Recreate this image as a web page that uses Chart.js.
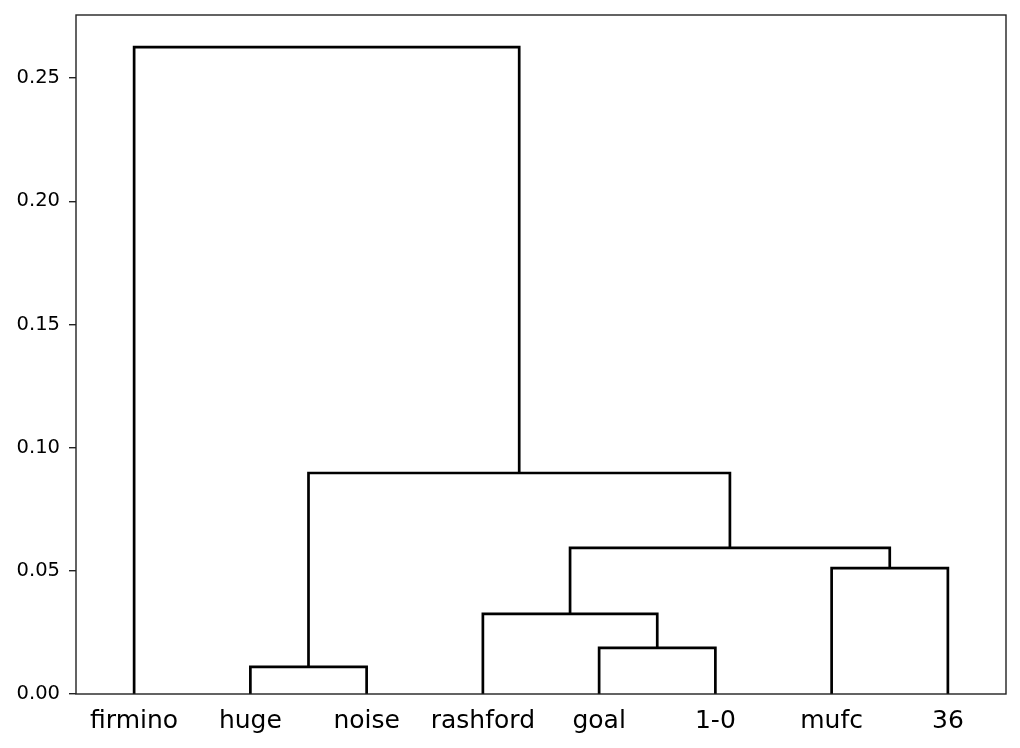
<!DOCTYPE html>
<html>
<head>
<meta charset="utf-8">
<script src="https://cdn.jsdelivr.net/npm/chart.js@4"></script>
<style>
  html, body { margin: 0; padding: 0; background: #fff; }
  #wrap { width: 1020px; height: 748px; }
</style>
</head>
<body>
<div id="wrap"><canvas id="myChart" width="1020" height="748"></canvas></div>
<script>
// leaves in dendrogram order
var leafLabels = ['firmino', 'huge', 'noise', 'rashford', 'goal', '1-0', 'mufc', '36'];
// linkage: [left node, right node, height]; nodes >= 8 are earlier merges
var mergeLeft = [1, 4, 3, 6, 10, 8, 0];
var mergeRight = [2, 5, 9, 7, 11, 12, 13];
var mergeHeight = [0.0110, 0.0187, 0.0325, 0.0511, 0.0593, 0.0897, 0.2626];
var yTicks = [0, 0.05, 0.10, 0.15, 0.20, 0.25];

(function() {
  var n = leafLabels.length;
  var nodeX = [], nodeH = [];
  for (var i = 0; i < n; i++) { nodeX.push(5 + 10 * i); nodeH.push(0); }

  var datasets = [];
  for (var k = 0; k < mergeHeight.length; k++) {
    var a = mergeLeft[k], b = mergeRight[k], h = mergeHeight[k];
    datasets.push({
      data: [
        { x: nodeX[a], y: nodeH[a] },
        { x: nodeX[a], y: h },
        { x: nodeX[b], y: h },
        { x: nodeX[b], y: nodeH[b] }
      ],
      showLine: true,
      borderColor: '#000',
      borderWidth: 2.7,
      pointRadius: 0,
      tension: 0
    });
    nodeX.push((nodeX[a] + nodeX[b]) / 2);
    nodeH.push(h);
  }

  var frame = {
    id: 'frame',
    afterDraw: function(chart) {
      var c = chart.ctx, a = chart.chartArea;
      c.save();
      c.strokeStyle = '#222';
      c.lineWidth = 1.4;
      c.strokeRect(a.left, a.top, a.right - a.left, a.bottom - a.top);
      c.restore();
    }
  };

  var ctx = document.getElementById('myChart').getContext('2d');
  new Chart(ctx, {
    type: 'scatter',
    data: { datasets: datasets },
    plugins: [frame],
    options: {
      responsive: false,
      animation: false,
      layout: { padding: { top: 15, right: 14, left: 0, bottom: 0 } },
      plugins: { legend: { display: false }, tooltip: { enabled: false } },
      scales: {
        x: {
          type: 'linear',
          min: 0,
          max: 10 * n,
          afterBuildTicks: function(scale) {
            scale.ticks = leafLabels.map(function(l, i) { return { value: 5 + 10 * i }; });
          },
          afterFit: function(scale) {
            scale.height = 54;
            scale.paddingLeft = 0;
            scale.paddingRight = 0;
          },
          grid: { display: false },
          border: { display: false },
          ticks: {
            autoSkip: false,
            maxRotation: 0,
            padding: 4,
            color: '#000',
            font: { family: 'DejaVu Sans', size: 25 },
            callback: function(v) { return leafLabels[(v - 5) / 10]; }
          }
        },
        y: {
          min: 0,
          max: 0.2756,
          afterBuildTicks: function(scale) {
            scale.ticks = yTicks.map(function(v) { return { value: v }; });
          },
          afterFit: function(scale) {
            scale.width = 76;
            scale.paddingTop = 0;
            scale.paddingBottom = 0;
          },
          grid: { drawOnChartArea: false, drawTicks: true, tickLength: 7, color: '#222', lineWidth: 1.4 },
          border: { display: false },
          ticks: {
            padding: 9,
            color: '#000',
            font: { family: 'DejaVu Sans', size: 19.5 },
            callback: function(v) { return v.toFixed(2); }
          }
        }
      }
    }
  });
})();
</script>
</body>
</html>
